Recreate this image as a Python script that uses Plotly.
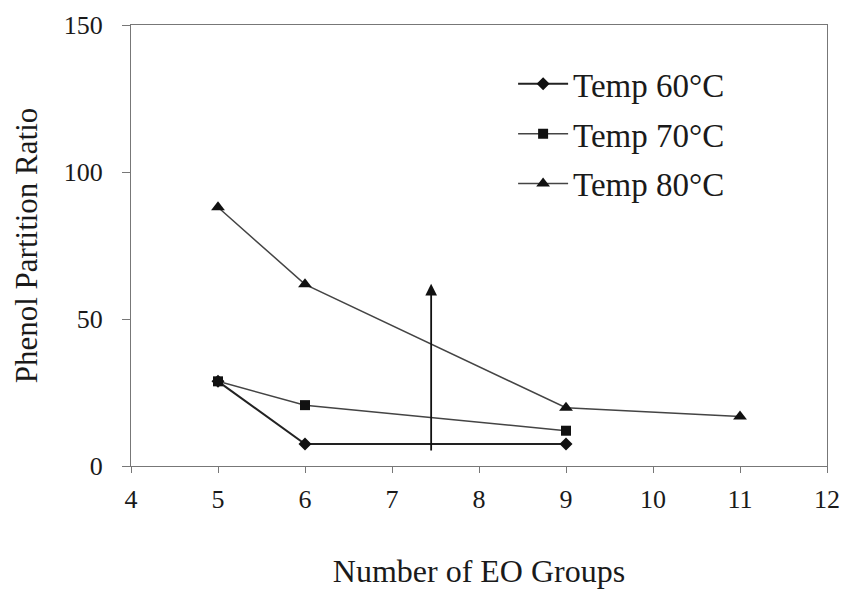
import plotly.graph_objects as go

eo_60 = [5, 6, 9]
ratio_60 = [28.8, 7.5, 7.5]
eo_70 = [5, 6, 9]
ratio_70 = [28.8, 20.7, 12.0]
eo_80 = [5, 6, 9, 11]
ratio_80 = [88.0, 61.8, 19.8, 16.8]
series_names = ["Temp 60°C", "Temp 70°C", "Temp 80°C"]
x_ticks = [4, 5, 6, 7, 8, 9, 10, 11, 12]
y_ticks = [0, 50, 100, 150]
arrow_x = 7.45
arrow_y = [4.8, 62.0]

FONT = "Liberation Serif, Times New Roman, serif"
LINE = "#444444"

fig = go.Figure()
fig.add_trace(go.Scatter(x=eo_60, y=ratio_60, name=series_names[0], legendgroup="a",
                         mode="lines+markers",
                         line=dict(color="#222222", width=2),
                         marker=dict(symbol="diamond", size=10, color="#111111")))
fig.add_trace(go.Scatter(x=eo_70, y=ratio_70, name=series_names[1], legendgroup="b",
                         mode="lines+markers",
                         line=dict(color=LINE, width=1.5),
                         marker=dict(symbol="square", size=10, color="#111111")))
fig.add_trace(go.Scatter(x=eo_80, y=ratio_80, name=series_names[2], legendgroup="c",
                         mode="lines+markers",
                         line=dict(color=LINE, width=1.5),
                         marker=dict(symbol="triangle-up", size=12, color="#111111")))

fig.add_annotation(x=arrow_x, y=arrow_y[1], ax=arrow_x, ay=arrow_y[0],
                   xref="x", yref="y", axref="x", ayref="y", text="",
                   showarrow=True, arrowhead=2, arrowsize=1.3, arrowwidth=1.8,
                   arrowcolor="#111111")

fig.update_layout(
    width=844, height=589,
    margin=dict(l=131, r=17, t=25, b=123),
    paper_bgcolor="white", plot_bgcolor="white",
    font=dict(family=FONT, color="#1a1a1a", size=26),
    showlegend=True,
    legend=dict(x=0.549, y=0.93, xanchor="left", yanchor="top",
                font=dict(size=33, family=FONT, color="#1a1a1a"),
                bgcolor="rgba(0,0,0,0)", itemwidth=50, tracegroupgap=4),
    xaxis=dict(range=[4, 12], tickvals=x_ticks, showgrid=False, zeroline=False,
               showline=True, linecolor="#777777", linewidth=1.2, mirror=True,
               ticks="outside", ticklen=6, tickcolor="#777777", automargin=False,
               ticklabeloverflow="allow",
               tickfont=dict(size=26, family=FONT), ticklabelstandoff=4,
               title=dict(text="Number of EO Groups", font=dict(size=32, family=FONT), standoff=47)),
    yaxis=dict(range=[0, 150], tickvals=y_ticks, showgrid=False, zeroline=False,
               showline=True, linecolor="#777777", linewidth=1.2, mirror=True,
               ticks="outside", ticklen=8, tickcolor="#777777", automargin=False,
               ticklabeloverflow="allow",
               tickfont=dict(size=26, family=FONT), ticklabelstandoff=14,
               title=dict(text="Phenol Partition Ratio", font=dict(size=31, family=FONT), standoff=16)),
)

fig.write_html("out.html",
               config={"displayModeBar": False},
               post_script="document.body.style.margin='0';document.body.style.overflow='hidden';")
